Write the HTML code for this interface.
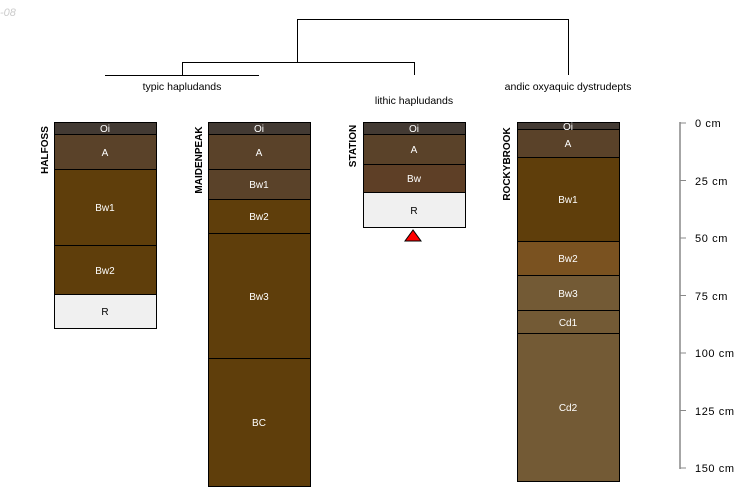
<!DOCTYPE html>
<html><head><meta charset="utf-8"><style>
html,body{margin:0;padding:0;background:#fff;width:750px;height:500px;overflow:hidden}
svg{display:block;font-family:"Liberation Sans",sans-serif}
.l{font-size:10px;fill:#fff;text-anchor:middle}
.d{font-size:10.5px;fill:#000;text-anchor:middle}
.n{font-size:10px;font-weight:bold;fill:#000;text-anchor:middle}
</style></head><body>
<svg width="750" height="500" viewBox="0 0 750 500">
<text x="0" y="16" font-size="11" font-style="italic" fill="#ccc">-08</text>
<g stroke="#000" stroke-width="1" fill="none">
<path d="M297.5 62V19.5H568.5V75"/>
<path d="M182.5 75V62.5H414.5V75"/>
<path d="M105 75.5H259"/>
</g>
<text x="182" y="90" class="d">typic hapludands</text>
<text x="414" y="104" class="d">lithic hapludands</text>
<text x="568" y="90" class="d">andic oxyaquic dystrudepts</text>

<g stroke="#000" stroke-width="1">
<rect x="54.5" y="122.5" width="102" height="12" fill="#433a33"/>
<rect x="54.5" y="134.5" width="102" height="35" fill="#5a4229"/>
<rect x="54.5" y="169.5" width="102" height="76" fill="#5f3e0b"/>
<rect x="54.5" y="245.5" width="102" height="49" fill="#5f3e0b"/>
<rect x="54.5" y="294.5" width="102" height="34" fill="#f0f0f0"/>
<rect x="208.5" y="122.5" width="102" height="12" fill="#433a33"/>
<rect x="208.5" y="134.5" width="102" height="35" fill="#5a4229"/>
<rect x="208.5" y="169.5" width="102" height="30" fill="#5a4229"/>
<rect x="208.5" y="199.5" width="102" height="34" fill="#5f3e0b"/>
<rect x="208.5" y="233.5" width="102" height="125" fill="#5f3e0b"/>
<rect x="208.5" y="358.5" width="102" height="128" fill="#5f3e0b"/>
<rect x="363.5" y="122.5" width="102" height="12" fill="#433a33"/>
<rect x="363.5" y="134.5" width="102" height="30" fill="#5a4229"/>
<rect x="363.5" y="164.5" width="102" height="28" fill="#5e3f26"/>
<rect x="363.5" y="192.5" width="102" height="35" fill="#f0f0f0"/>
<rect x="517.5" y="122.5" width="102" height="7" fill="#433a33"/>
<rect x="517.5" y="129.5" width="102" height="28" fill="#5a4229"/>
<rect x="517.5" y="157.5" width="102" height="84" fill="#5f3e0b"/>
<rect x="517.5" y="241.5" width="102" height="34" fill="#7a5220"/>
<rect x="517.5" y="275.5" width="102" height="35" fill="#735a35"/>
<rect x="517.5" y="310.5" width="102" height="23" fill="#735a35"/>
<rect x="517.5" y="333.5" width="102" height="148" fill="#735a35"/>
</g>
<polygon points="413,230 405,241 421,241" fill="#f00" stroke="#000" stroke-width="1"/>

<text x="105" y="132" class="l">Oi</text>
<text x="105" y="156" class="l">A</text>
<text x="105" y="211" class="l">Bw1</text>
<text x="105" y="274" class="l">Bw2</text>
<text x="105" y="315" class="d" style="font-size:10px">R</text>

<text x="259" y="132" class="l">Oi</text>
<text x="259" y="156" class="l">A</text>
<text x="259" y="188" class="l">Bw1</text>
<text x="259" y="220" class="l">Bw2</text>
<text x="259" y="300" class="l">Bw3</text>
<text x="259" y="426" class="l">BC</text>

<text x="414" y="132" class="l">Oi</text>
<text x="414" y="153" class="l">A</text>
<text x="414" y="182" class="l">Bw</text>
<text x="414" y="214" class="d" style="font-size:10px">R</text>

<text x="568" y="130" class="l">Oi</text>
<text x="568" y="147" class="l">A</text>
<text x="568" y="203" class="l">Bw1</text>
<text x="568" y="262" class="l">Bw2</text>
<text x="568" y="297" class="l">Bw3</text>
<text x="568" y="326" class="l">Cd1</text>
<text x="568" y="411" class="l">Cd2</text>

<text class="n" transform="translate(48,150) rotate(-90)">HALFOSS</text>
<text class="n" transform="translate(202,160) rotate(-90)">MAIDENPEAK</text>
<text class="n" transform="translate(356,146) rotate(-90)">STATION</text>
<text class="n" transform="translate(510,164) rotate(-90)">ROCKYBROOK</text>

<g stroke="#888" stroke-width="1.5">
<line x1="680" y1="122" x2="680" y2="469"/>
</g>
<g stroke="#888" stroke-width="1">
<line x1="680" y1="123" x2="686" y2="123"/>
<line x1="680" y1="180.5" x2="686" y2="180.5"/>
<line x1="680" y1="238" x2="686" y2="238"/>
<line x1="680" y1="295.5" x2="686" y2="295.5"/>
<line x1="680" y1="353" x2="686" y2="353"/>
<line x1="680" y1="410.5" x2="686" y2="410.5"/>
<line x1="680" y1="468" x2="686" y2="468"/>
</g>
<g font-size="11" fill="#000" letter-spacing="0.6">
<text x="695" y="127">0 cm</text>
<text x="695" y="185">25 cm</text>
<text x="695" y="242">50 cm</text>
<text x="695" y="300">75 cm</text>
<text x="695" y="357">100 cm</text>
<text x="695" y="415">125 cm</text>
<text x="695" y="472">150 cm</text>
</g>
</svg>
</body></html>
